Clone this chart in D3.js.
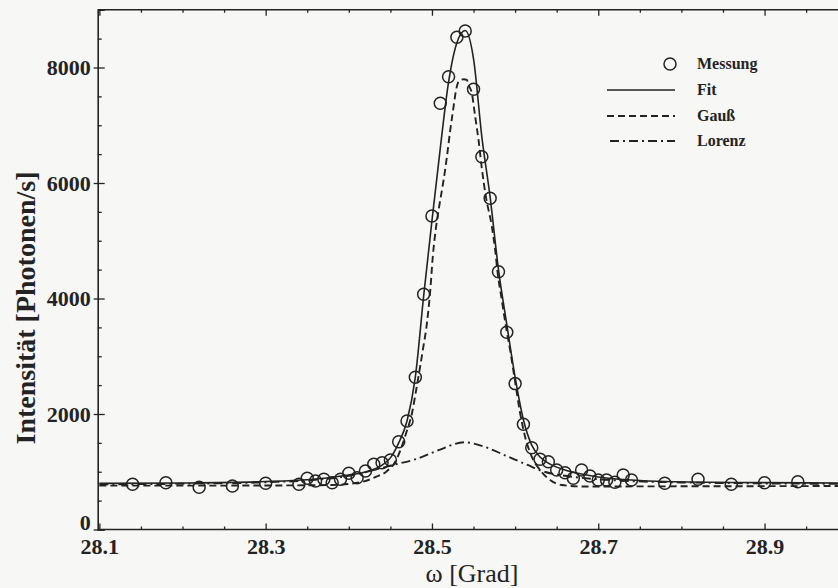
<!DOCTYPE html>
<html>
<head>
<meta charset="utf-8">
<script src="https://cdn.jsdelivr.net/npm/d3@7"></script>
<style>
html,body{margin:0;padding:0;background:#f7f7f5;}
svg{display:block;}
</style>
</head>
<body>
<svg id="chart" width="838" height="588"></svg>
<script>
// ---- data ----
const measX = [28.14,28.18,28.22,28.26,28.30,28.34,
  28.35,28.36,28.37,28.38,28.39,28.40,28.41,28.42,28.43,28.44,28.45,28.46,28.47,28.48,28.49,
  28.50,28.51,28.52,28.53,28.54,28.55,28.56,28.57,28.58,28.59,28.60,28.61,28.62,28.63,28.64,
  28.65,28.66,28.67,28.68,28.69,28.70,28.71,28.72,28.73,28.74,
  28.78,28.82,28.86,28.90,28.94];
const measY = [783,810,731,753,800,783,
  887,840,869,810,869,973,897,1013,1129,1157,1203,1520,1879,2635,4073,
  5429,7380,7841,8523,8632,7623,6455,5735,4464,3415,2526,1822,1416,1216,1174,
  1030,984,887,1030,926,857,857,817,944,857,
  800,869,783,810,828];

const fitX = [28.10,28.20,28.30,28.36,28.40,28.42,28.44,28.45,28.46,28.47,28.48,28.49,28.50,28.51,28.52,28.53,28.54,
  28.55,28.56,28.57,28.58,28.59,28.60,28.61,28.62,28.63,28.64,28.65,28.66,28.68,28.70,28.74,28.78,28.86,29.00];
const fitY = [798,805,830,875,945,995,1115,1240,1500,1880,2640,4040,5350,6600,7750,8430,8640,
  8150,6800,5750,4500,3550,2640,1900,1460,1255,1150,1080,1030,960,910,857,830,815,805];

const gaussX = [28.10,28.20,28.30,28.38,28.417,28.433,28.445,28.457,28.463,28.469,28.476,28.481,28.489,28.494,28.498,
  28.501,28.505,28.510,28.514,28.518,28.522,28.526,28.529,28.532,28.538,28.542,28.544,28.548,28.552,28.556,28.560,
  28.565,28.572,28.576,28.579,28.584,28.589,28.594,28.600,28.606,28.612,28.620,28.630,28.642,28.656,28.682,28.80,29.00];
const gaussY = [760,760,762,770,828,914,1001,1203,1411,1671,2017,2416,3108,3576,4147,
  4724,5243,5706,6052,6455,6918,7321,7610,7754,7796,7784,7697,7553,7148,6745,6250,
  5750,5250,4840,4442,3974,3512,3108,2560,2017,1607,1261,1030,857,771,745,748,753];

const lorX = [28.10,28.20,28.30,28.36,28.40,28.43,28.453,28.481,28.509,28.539,28.563,28.587,28.615,28.635,28.66,28.70,28.80,29.00];
const lorY = [782,792,818,860,930,1030,1117,1220,1380,1510,1434,1290,1117,1001,930,870,815,790];

const xMajor = [28.1,28.3,28.5,28.7,28.9];
const xMinor = [28.15,28.2,28.25,28.35,28.4,28.45,28.55,28.6,28.65,28.75,28.8,28.85,28.95];
const yMajor = [0,2000,4000,6000,8000];
const yMinor = [500,1000,1500,2500,3000,3500,4500,5000,5500,6500,7000,7500,8500];

const legendItems = ["Messung","Fit","Gauß","Lorenz"];

// ---- drawing ----
const ink = "#232323";
const svg = d3.select("#chart");
const x = d3.scaleLinear().domain([28.098, 29.0]).range([97.7, 847.7]);
const y = d3.scaleLinear().domain([0, 9000]).range([529.5, 9.75]);
const serif = "'Liberation Serif','DejaVu Serif',serif";

const x0 = x.range()[0], yb = y.range()[0], yt = y.range()[1];

// frame top
svg.append("line").attr("x1",x0).attr("x2",860).attr("y1",yt).attr("y2",yt).attr("stroke",ink).attr("stroke-width",1.6);

// bottom axis
const gxMaj = svg.append("g").attr("transform",`translate(0,${yb})`)
  .call(d3.axisBottom(x).tickValues(xMajor).tickSize(-6).tickPadding(8.5).tickFormat(d3.format(".1f")));
const gxMin = svg.append("g").attr("transform",`translate(0,${yb})`)
  .call(d3.axisBottom(x).tickValues(xMinor).tickSize(-3).tickFormat(""));
// top axis
const gtMaj = svg.append("g").attr("transform",`translate(0,${yt})`)
  .call(d3.axisTop(x).tickValues(xMajor).tickSize(-6).tickFormat(""));
const gtMin = svg.append("g").attr("transform",`translate(0,${yt})`)
  .call(d3.axisTop(x).tickValues(xMinor).tickSize(-3).tickFormat(""));
// left axis
const gyMaj = svg.append("g").attr("transform",`translate(${x0},0)`)
  .call(d3.axisLeft(y).tickValues(yMajor).tickSize(-7).tickPadding(7).tickFormat(d3.format("d")));
const gyMin = svg.append("g").attr("transform",`translate(${x0},0)`)
  .call(d3.axisLeft(y).tickValues(yMinor).tickSize(-4).tickFormat(""));

[gxMaj,gxMin,gtMaj,gtMin,gyMaj,gyMin].forEach(g=>{
  g.select(".domain").attr("stroke",ink).attr("stroke-width",1.6);
  g.selectAll(".tick line").attr("stroke",ink).attr("stroke-width",1.3);
  g.selectAll("text").attr("fill",ink).attr("font-family",serif).attr("font-weight","bold").attr("font-size",22);
});
gxMaj.select(".domain").attr("d",`M${x0},0H860`);
gxMin.select(".domain").remove();
gtMaj.select(".domain").remove();
gtMin.select(".domain").remove();
gyMin.select(".domain").remove();
gyMaj.selectAll(".tick line").attr("x1",-4).attr("x2",7);
// the "0" label sits just above the corner, as in the reference
gyMaj.selectAll(".tick").filter(d=>d===0).select("text").attr("dy","-0.02em");

// axis titles
svg.append("text").attr("transform",`translate(35,${308}) rotate(-90)`)
  .attr("text-anchor","middle").attr("font-family",serif).attr("font-weight","bold").attr("font-size",28)
  .attr("fill",ink).text("Intensität [Photonen/s]");
svg.append("text").attr("x",472).attr("y",582)
  .attr("text-anchor","middle").attr("font-family",serif).attr("font-size",26)
  .attr("fill",ink).text("ω [Grad]");

// curves
const mk = (xs,ys)=>xs.map((v,i)=>[v,ys[i]]);
const line = d3.line().x(d=>x(d[0])).y(d=>y(d[1])).curve(d3.curveMonotoneX);

svg.append("path").datum(mk(lorX,lorY)).attr("d",line).attr("fill","none")
  .attr("stroke",ink).attr("stroke-width",1.9).attr("stroke-dasharray","9,4,2,4");
svg.append("path").datum(mk(gaussX,gaussY)).attr("d",line).attr("fill","none")
  .attr("stroke",ink).attr("stroke-width",1.9).attr("stroke-dasharray","7,4");
svg.append("path").datum(mk(fitX,fitY)).attr("d",line).attr("fill","none")
  .attr("stroke",ink).attr("stroke-width",1.6);

// measurement circles
svg.append("g").selectAll("circle").data(mk(measX,measY)).join("circle")
  .attr("cx",d=>x(d[0])).attr("cy",d=>y(d[1])).attr("r",6)
  .attr("fill","none").attr("stroke",ink).attr("stroke-width",1.5);

// legend
const leg = svg.append("g");
const rowY = [64,90,116,141];
const dashes = [null,null,"7,4","9,4,2,4"];
legendItems.forEach((name,i)=>{
  if(i===0){
    leg.append("circle").attr("cx",670).attr("cy",rowY[i]).attr("r",6)
      .attr("fill","none").attr("stroke",ink).attr("stroke-width",1.5);
  } else {
    const l = leg.append("line").attr("x1",i===3?610:607).attr("x2",675).attr("y1",rowY[i]).attr("y2",rowY[i])
      .attr("stroke",ink).attr("stroke-width",i===1?1.6:1.9);
    if(dashes[i]) l.attr("stroke-dasharray",dashes[i]);
  }
  leg.append("text").attr("x",697).attr("y",rowY[i]+5).attr("font-family",serif)
    .attr("font-weight","bold").attr("font-size",16).attr("fill",ink).text(name);
});
</script>
</body>
</html>
